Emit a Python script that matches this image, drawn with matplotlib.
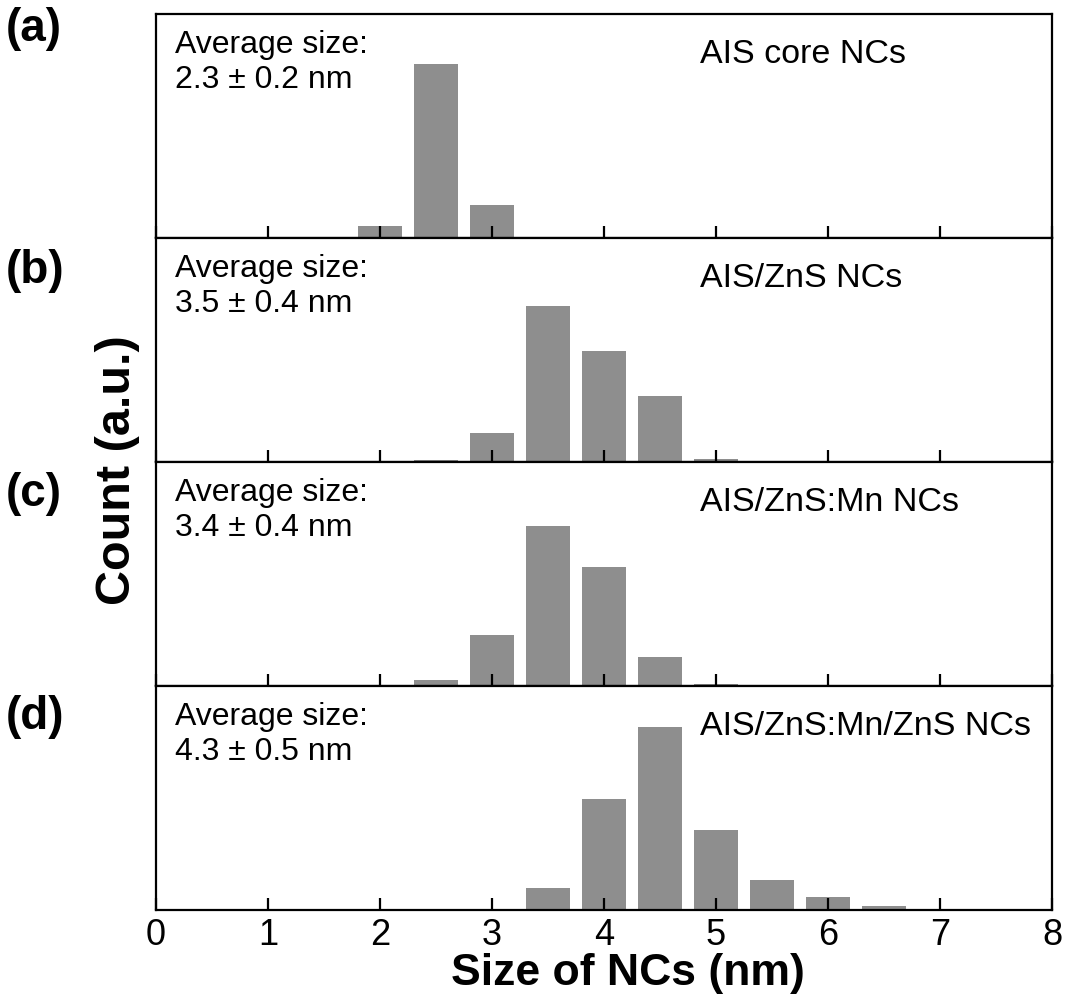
import matplotlib
matplotlib.use("Agg")
import matplotlib.pyplot as plt

# ---- data ----
centers = [2.0, 2.5, 3.0, 3.5, 4.0, 4.5, 5.0, 5.5, 6.0, 6.5]
counts_a = [5.4, 77.7, 14.7, 0, 0, 0, 0, 0, 0, 0]
counts_b = [0, 0.8, 12.9, 69.6, 49.6, 29.5, 1.2, 0, 0, 0]
counts_c = [0, 2.7, 22.8, 71.4, 53.1, 12.9, 0.9, 0, 0, 0]
counts_d = [0, 0, 0, 9.8, 49.6, 81.7, 35.7, 13.4, 5.8, 1.8]
series = [counts_a, counts_b, counts_c, counts_d]
panel_tags = ["(a)", "(b)", "(c)", "(d)"]
samples = ["AIS core NCs", "AIS/ZnS NCs", "AIS/ZnS:Mn NCs", "AIS/ZnS:Mn/ZnS NCs"]
averages = ["2.3 ± 0.2 nm", "3.5 ± 0.4 nm", "3.4 ± 0.4 nm", "4.3 ± 0.5 nm"]
xticks = [0, 1, 2, 3, 4, 5, 6, 7, 8]

W, H = 1068, 1002
fig = plt.figure(figsize=(W / 100, H / 100), dpi=100)
left, right = 156 / W, 1052 / W
top, bottom = 1 - 14 / H, 1 - 910 / H
gs = fig.add_gridspec(4, 1, left=left, right=right, top=top, bottom=bottom, hspace=0)

tag_y = [29, 271, 494, 717]

for i in range(4):
    ax = fig.add_subplot(gs[i])
    ax.bar(centers, series[i], width=0.4, color="#8e8e8e", edgecolor="none")
    ax.set_xlim(0, 8)
    ax.set_ylim(0, 100)
    ax.set_yticks([])
    ax.set_xticks(xticks)
    ax.tick_params(axis="x", direction="in", length=9, width=1.6, top=False,
                   labelsize=26, pad=6)
    for s in ax.spines.values():
        s.set_linewidth(1.6)
    if i < 3:
        ax.tick_params(axis="x", labelbottom=False)
    else:
        for lab in ax.get_xticklabels():
            lab.set_fontfamily("Liberation Sans")
    ax.text(0.021, 0.93, "Average size:\n" + averages[i], transform=ax.transAxes,
            ha="left", va="top", fontsize=23, fontfamily="Liberation Sans",
            linespacing=1.22)
    ax.text(4.86, 0.82, samples[i], transform=ax.get_xaxis_transform(),
            ha="left", va="center", fontsize=24.5, fontfamily="Liberation Sans")
    fig.text(6 / W, 1 - tag_y[i] / H, panel_tags[i], ha="left", va="center",
             fontsize=33, fontweight="bold", fontfamily="Liberation Sans")

fig.text(118 / W, 1 - 470 / H, "Count (a.u.)", rotation=90, ha="center", va="center",
         fontsize=35, fontweight="bold", fontfamily="Liberation Sans")
fig.text(628 / W, 1 - 974 / H, "Size of NCs (nm)", ha="center", va="center",
         fontsize=32, fontweight="bold", fontfamily="Liberation Sans")

fig.savefig("out.png", dpi=100)
